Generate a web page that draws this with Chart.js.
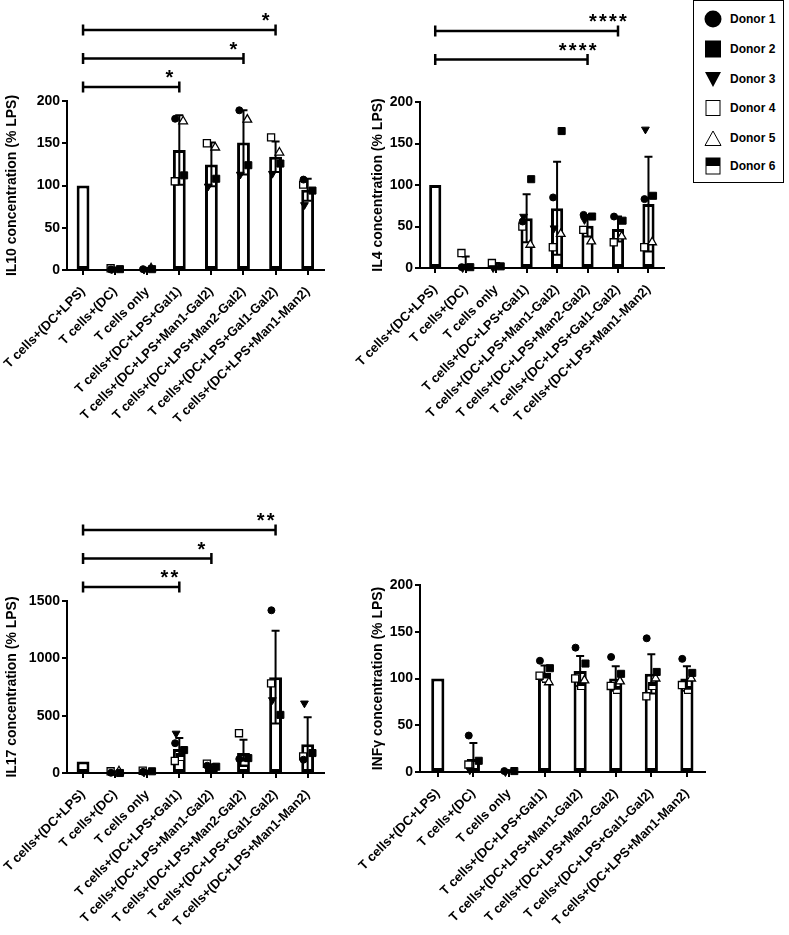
<!DOCTYPE html>
<html lang="en">
<head>
<meta charset="UTF-8">
<title>Cytokine release</title>
<script src="https://cdn.jsdelivr.net/npm/chart.js@4"></script>
<style>
    body { margin: 0; background: #fff; font-family: 'Liberation Sans', Arial, sans-serif; }
    #page { position: relative; width: 789px; height: 935px; overflow: hidden; }
    canvas { position: absolute; }
    #legend { position: absolute; left: 693px; top: 0; width: 91px; height: 183px; border: 1px solid #000; box-sizing: border-box; }
    .row { position: absolute; left: 10px; height: 18px; display: flex; align-items: center; font-weight: bold; font-size: 12px; color: #000; }
    .row svg { margin-right: 8px; }
</style>
</head>
<body>
<div id="page">
    <canvas id="il10" width="330" height="440" style="left:0;top:0"></canvas>
    <canvas id="il4" width="330" height="440" style="left:340px;top:0"></canvas>
    <canvas id="il17" width="330" height="455" style="left:0;top:480px"></canvas>
    <canvas id="inf" width="371" height="375" style="left:340px;top:560px"></canvas>
    <div id="legend"></div>
</div>
<script>
const categories = ['T cells+(DC+LPS)', 'T cells+(DC)', 'T cells only', 'T cells+(DC+LPS+Gal1)',
    'T cells+(DC+LPS+Man1-Gal2)', 'T cells+(DC+LPS+Man2-Gal2)', 'T cells+(DC+LPS+Gal1-Gal2)', 'T cells+(DC+LPS+Man1-Man2)'];
const donorNames = ['Donor 1', 'Donor 2', 'Donor 3', 'Donor 4', 'Donor 5', 'Donor 6'];

// IL10
const il10Mean = [100, 1, 1, 142, 125, 151, 134, 95];
const il10Sd = [null, 1, 1, 41, 26, 38, 18, 13];
const il10Donors = [
    [null, 0.5, 1, 179, null, 189, null, 107],
    [null, 1, 1, 112, 108, 124, 126, 94],
    [null, 1, 0.5, null, 99, 113, 114, 77],
    [null, 2, null, 105, 150, null, 157, 101],
    [null, null, 2, 176, 145, 178, 139, null],
    [null, null, null, null, null, null, null, null]
];
const il10Pairs = [[0, 6], [0, 5], [0, 3]];
const il10Stars = ['*', '*', '*'];

// IL4
const il4Mean = [100, 5, 3, 60, 72, 51, 47, 77];
const il4Sd = [null, 9, 3, 29, 56, 13, 15, 57];
const il4Donors = [
    [null, 1, null, 56, 85, 64, 62, 83],
    [null, 1, 2, 107, 165, 62, 57, 87],
    [null, 0, 0, 62, 48, 58, null, 167],
    [null, 18, 6, 50, 25, 46, 31, 25],
    [null, null, null, 28, 41, 32, 38, 31],
    [null, null, null, null, null, null, null, null]
];
const il4Pairs = [[0, 6], [0, 5]];
const il4Stars = ['****', '****'];

// IL17
const il17Mean = [100, 8, 12, 210, 62, 175, 836, 250];
const il17Sd = [null, 8, 7, 96, 14, 115, 404, 237];
const il17Donors = [
    [null, 2, 10, 260, 64, 122, 1419, 116],
    [null, 0, 15, 200, 55, 130, 507, 174],
    [null, null, 5, 345, 50, null, 637, 608],
    [null, 15, 20, 105, 81, 347, 782, 145],
    [null, 15, null, null, null, null, null, null],
    [null, null, null, 140, null, 100, null, null]
];
const il17Pairs = [[0, 6], [0, 4], [0, 3]];
const il17Stars = ['**', '*', '**'];

// INF gamma
const infMean = [100, 14, 1, 106, 108, 100, 105, 100];
const infSd = [null, 17, 1, 8, 16, 13, 21, 13];
const infDonors = [
    [null, 39, 1, 119, 133, 123, 143, 121],
    [null, 12, 1, 111, 116, 105, 107, 106],
    [null, 2, 0, null, null, null, null, null],
    [null, 8, null, 103, 100, 92, 81, 93],
    [null, null, null, 96, 98, 97, 100, 100],
    [null, null, null, 100, 92, 88, 92, 88]
];

const FONT = "'Liberation Sans', Arial, sans-serif";

function halfSquare(size) {
    const c = document.createElement('canvas');
    c.width = size; c.height = size;
    const g = c.getContext('2d');
    g.fillStyle = '#fff'; g.fillRect(0, 0, size, size);
    g.fillStyle = '#000'; g.fillRect(0, 0, size, size / 2);
    g.strokeStyle = '#000'; g.lineWidth = 1; g.strokeRect(0.5, 0.5, size - 1, size - 1);
    return c;
}

const donorStyles = [
    {style: 'circle', r: 3.5, fill: '#000', bw: 1},
    {style: 'rect', r: 5, fill: '#000', bw: 1},
    {style: 'triangle', r: 4.5, fill: '#000', bw: 1, rot: 180},
    {style: 'rect', r: 5, fill: '#fff', bw: 1.3},
    {style: 'triangle', r: 5, fill: '#fff', bw: 1.3},
    {style: halfSquare(8), r: 4, fill: '#000', bw: 1}
];
const jitter = [-0.13, 0.15, -0.1, -0.14, 0.12, 0.03];

// error bars + significance brackets
function overlay(cfg) {
    return {
        id: 'overlay',
        afterDatasetDraw(chart, args) {
            if (args.meta.type !== 'bar') return;
            const {ctx} = chart;
            const x = chart.scales.x, y = chart.scales.y;
            ctx.save();
            ctx.strokeStyle = '#000';
            ctx.lineWidth = 2;
            cfg.mean.forEach((m, i) => {
                const sd = cfg.sd[i];
                if (sd == null) return;
                const px = x.getPixelForValue(i);
                const hi = y.getPixelForValue(m + sd);
                const lo = y.getPixelForValue(Math.max(0, m - sd));
                ctx.beginPath();
                ctx.moveTo(px, hi); ctx.lineTo(px, lo);
                ctx.moveTo(px - 4, hi); ctx.lineTo(px + 4, hi);
                ctx.moveTo(px - 4, lo); ctx.lineTo(px + 4, lo);
                ctx.stroke();
            });
            ctx.restore();
        },
        afterDraw(chart) {
            if (!cfg.pairs) return;
            const {ctx} = chart;
            const x = chart.scales.x;
            const top = chart.chartArea.top;
            ctx.save();
            ctx.strokeStyle = '#000';
            ctx.fillStyle = '#000';
            ctx.lineWidth = 2.5;
            cfg.pairs.forEach(([a, b], k) => {
                const ly = top - 71 + k * 28.5;
                const xa = x.getPixelForValue(a), xb = x.getPixelForValue(b);
                ctx.beginPath();
                ctx.moveTo(xa, ly); ctx.lineTo(xb, ly);
                ctx.moveTo(xa, ly - 5.5); ctx.lineTo(xa, ly + 5.5);
                ctx.moveTo(xb, ly - 5.5); ctx.lineTo(xb, ly + 5.5);
                ctx.stroke();
                const txt = cfg.stars[k];
                ctx.font = 'bold 20px ' + FONT;
                ctx.textAlign = 'center';
                ctx.textBaseline = 'alphabetic';
                const gap = 10;
                const cx = xb - 10 - (txt.length - 1) * gap / 2;
                for (let j = 0; j < txt.length; j++) {
                    ctx.fillText(txt[j], cx + j * gap, ly - 3);
                }
            });
            ctx.restore();
        }
    };
}

function makeChart(id, cfg) {
    const datasets = [{
        type: 'bar',
        label: 'mean',
        data: cfg.mean,
        order: 2,
        grouped: false,
        backgroundColor: '#fff',
        borderColor: '#000',
        borderWidth: 3,
        borderSkipped: false,
        barPercentage: cfg.barPct,
        categoryPercentage: 1
    }];
    cfg.donors.forEach((vals, d) => {
        const s = donorStyles[d];
        datasets.push({
            type: 'scatter',
            label: donorNames[d],
            xAxisID: 'xp',
            order: 1,
            clip: false,
            data: vals.map((v, i) => v == null ? null : {x: i + jitter[d], y: v}).filter(p => p),
            pointStyle: s.style,
            pointRadius: s.r,
            pointRotation: s.rot || 0,
            pointBackgroundColor: s.fill,
            pointBorderColor: '#000',
            pointBorderWidth: s.bw
        });
    });

    new Chart(document.getElementById(id), {
        type: 'bar',
        data: {labels: categories, datasets: datasets},
        options: {
            responsive: false,
            animation: false,
            events: [],
            layout: {padding: cfg.pad},
            plugins: {legend: {display: false}, tooltip: {enabled: false}},
            scales: {
                x: {
                    type: 'category',
                    offset: true,
                    border: {display: true, color: '#000', width: 2},
                    grid: {display: true, drawOnChartArea: false, offset: false, color: '#000', lineWidth: 2, tickLength: 5},
                    ticks: {color: '#000', font: {family: FONT, size: 13, weight: 'bold'},
                        minRotation: 45, maxRotation: 45, autoSkip: false, padding: 9},
                    afterFit: s => { s.height = cfg.xh; s.paddingLeft = 0; s.paddingRight = 0; }
                },
                xp: {type: 'linear', axis: 'x', position: 'bottom', display: false, offset: false,
                    min: -0.5, max: 7.5, grid: {offset: false}},
                y: {
                    min: 0,
                    max: cfg.max,
                    border: {display: true, color: '#000', width: 2},
                    grid: {drawOnChartArea: false, color: '#000', lineWidth: 2, tickLength: 5},
                    ticks: {stepSize: cfg.step, color: '#000', font: {family: FONT, size: 14, weight: 'bold'}, padding: 2,
                        callback: v => String(v)},
                    title: {display: true, text: cfg.title, color: '#000', font: {family: FONT, size: 14, weight: 'bold'}},
                    afterFit: s => { s.width = cfg.yw; s.paddingTop = 0; s.paddingBottom = 0; }
                }
            }
        },
        plugins: [overlay(cfg)]
    });
}

makeChart('il10', {
    mean: il10Mean, sd: il10Sd, donors: il10Donors, pairs: il10Pairs, stars: il10Stars,
    title: 'IL10 concentration (% LPS)', max: 200, step: 50, barPct: 0.4,
    pad: {top: 101, right: 5, left: 0, bottom: 0}, yw: 67, xh: 170
});
makeChart('il4', {
    mean: il4Mean, sd: il4Sd, donors: il4Donors, pairs: il4Pairs, stars: il4Stars,
    title: 'IL4 concentration (% LPS)', max: 200, step: 50, barPct: 0.4,
    pad: {top: 102, right: 2, left: 26, bottom: 0}, yw: 54, xh: 172
});
makeChart('il17', {
    mean: il17Mean, sd: il17Sd, donors: il17Donors, pairs: il17Pairs, stars: il17Stars,
    title: 'IL17 concentration (% LPS)', max: 1500, step: 500, barPct: 0.4,
    pad: {top: 121, right: 5, left: 0, bottom: 0}, yw: 67, xh: 162
});
makeChart('inf', {
    mean: infMean, sd: infSd, donors: infDonors,
    title: 'INFγ concentration (% LPS)', max: 200, step: 50, barPct: 0.37,
    pad: {top: 25, right: 6, left: 26, bottom: 0}, yw: 54, xh: 163
});

// legend box
const legendShapes = [
    '<circle cx="9" cy="9" r="8.5" fill="#000"/>',
    '<rect x="1" y="0.5" width="16" height="17" fill="#000"/>',
    '<polygon points="1,2 17,2 9,17" fill="#000"/>',
    '<rect x="2" y="1.5" width="14" height="15" fill="#fff" stroke="#000" stroke-width="1"/>',
    '<polygon points="9,2 17,16.5 1,16.5" fill="#fff" stroke="#000" stroke-width="1"/>',
    '<rect x="2" y="1" width="14" height="16" fill="#fff" stroke="#000" stroke-width="1"/><rect x="2" y="1" width="14" height="8" fill="#000"/>'
];
const legendRows = [18, 48, 78, 107, 137, 165];
const legend = document.getElementById('legend');
donorNames.forEach((name, i) => {
    const row = document.createElement('div');
    row.className = 'row';
    row.style.top = (legendRows[i] - 9) + 'px';
    row.innerHTML = '<svg width="18" height="18">' + legendShapes[i] + '</svg><span>' + name + '</span>';
    legend.appendChild(row);
});
</script>
</body>
</html>
